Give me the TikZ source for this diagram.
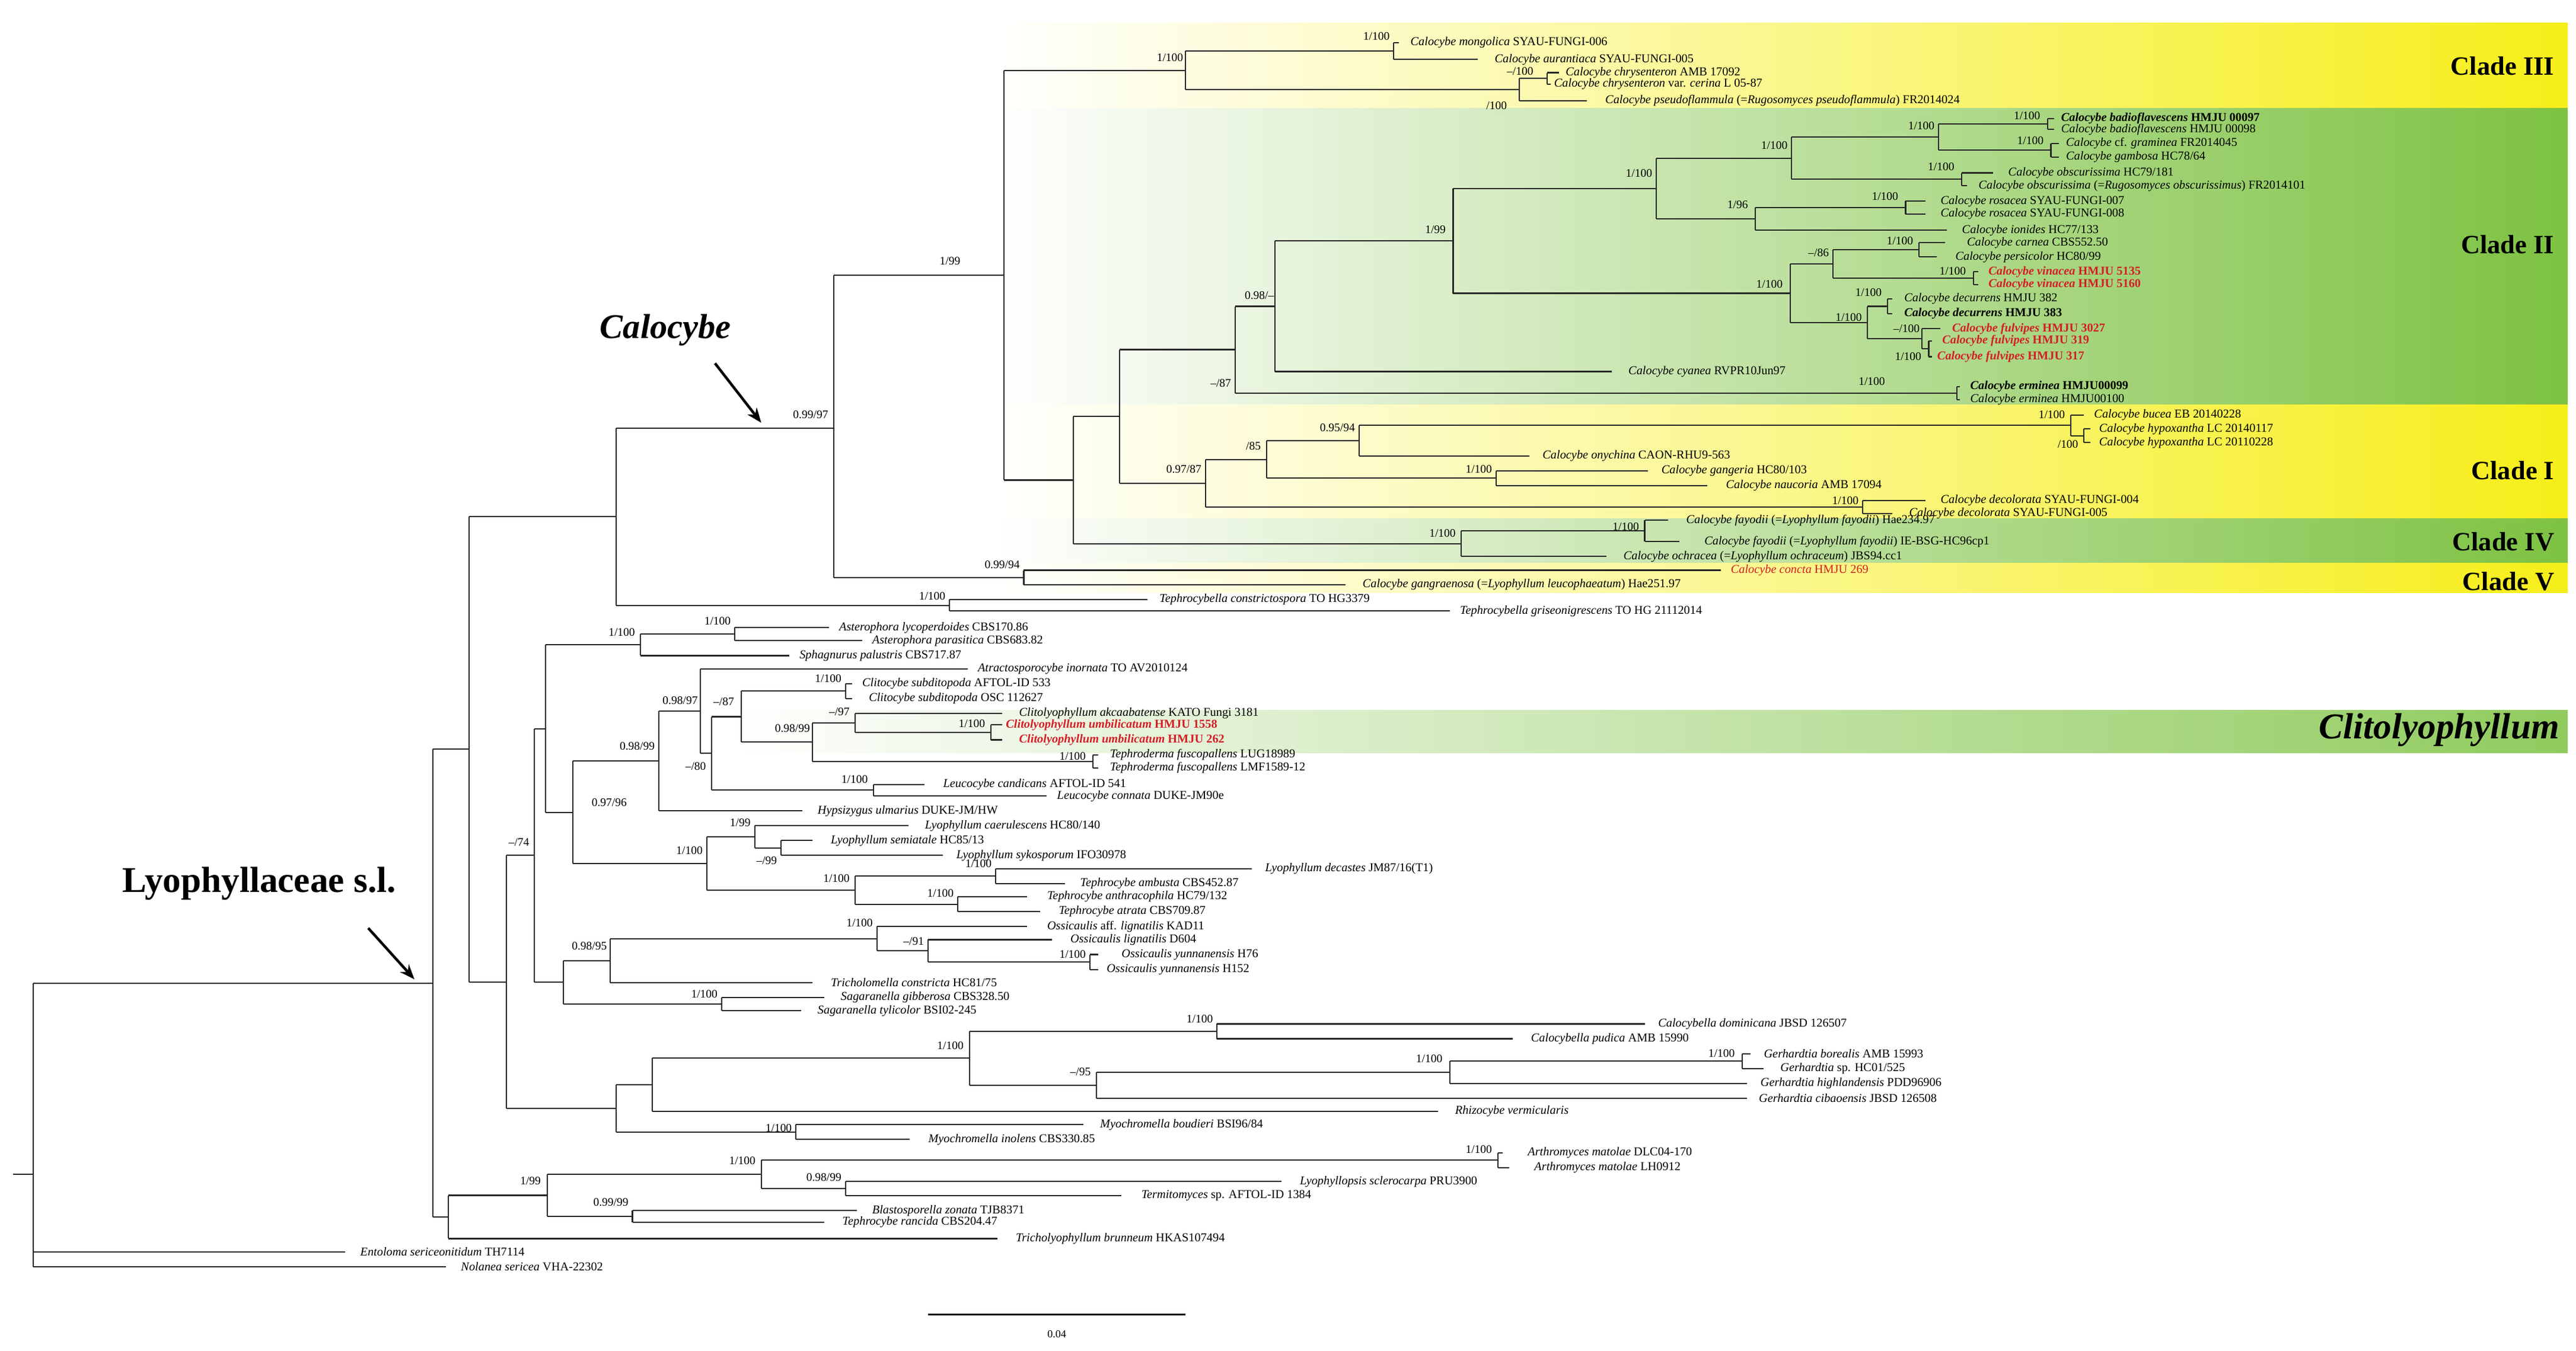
\documentclass[tikz,border=0pt]{standalone}
\usepackage{fontspec}
\setmainfont{Liberation Serif}
\usetikzlibrary{arrows.meta}
\definecolor{cred}{RGB}{212,30,38}
\definecolor{cyel}{RGB}{246,238,25}
\definecolor{cgrn}{RGB}{125,194,66}
\newcounter{lfc}
\tikzset{
 br/.style={line width=0.75pt, black!85},
 leaf/.style={anchor=west, inner sep=0pt, font=\fontsize{7.3}{8}\selectfont},
 sup/.style={anchor=east, inner sep=0.3pt, font=\fontsize{7}{8}\selectfont},
 clade/.style={anchor=east, inner sep=0pt, font=\fontsize{16}{18}\selectfont\bfseries},
 big/.style={inner sep=0pt, font=\fontsize{22}{24}\selectfont\bfseries},
 arr/.style={line width=1.6pt, -{Stealth[length=9pt,width=7pt]}}
}
\newcommand\vbr[3]{\draw[br] (#1,#2) -- (#1,#3);}
\newcommand\hbr[3]{\draw[br] (#1,#2) -- (#3,#2);}
\newcommand\lfx[5]{\draw[br] (#1,#2) -- (#3,#2);\stepcounter{lfc}\node[leaf] (t\arabic{lfc}) at (#4,#2) {#5};}
\newcommand\sv[3]{\stepcounter{lfc}\node[sup] (s\arabic{lfc}) at (#1,#2) {#3};}
\newcommand\rb[1]{\textcolor{cred}{\bfseries #1}}
\begin{document}
\begin{tikzpicture}[x=1pt,y=-1pt]
\useasboundingbox (0,0) rectangle (1560,818);
% ---- bands
\shade[left color=white, right color=cyel] (600,14) rectangle (1555,65.5);
\shade[left color=white, right color=cgrn] (600,65.5) rectangle (1555,245);
\shade[left color=white, right color=cyel] (600,245) rectangle (1555,314);
\shade[left color=white, right color=cgrn] (600,314) rectangle (1555,341);
\shade[left color=white, right color=cyel] (600,341) rectangle (1555,359);
\shade[left color=white, right color=cgrn!85] (440,430) rectangle (1555,456);
% ---- clade labels
\node[clade] (c3) at (1547,40) {Clade III};
\node[clade] (c2) at (1547,148) {Clade II};
\node[clade] (c1) at (1547,285) {Clade I};
\node[clade] (c4) at (1547,328) {Clade IV};
\node[clade] (c5) at (1547,352) {Clade V};
\node[clade, font=\fontsize{22}{24}\selectfont\bfseries\itshape] (cl) at (1550,442) {Clitolyophyllum};
\node[big, font=\fontsize{21}{23}\selectfont\bfseries\itshape] (calo) at (403,200) {Calocybe};
\node[big] (lyo) at (157,535) {Lyophyllaceae s.l.};
\coordinate (ca1) at (433,220); \coordinate (ca2) at (461,256);
\coordinate (la1) at (223,562); \coordinate (la2) at (251,593);
\draw[arr] (ca1) -- (ca2);
\draw[arr] (la1) -- (la2);
% scale bar
\coordinate (sb1) at (562,796); \coordinate (sb2) at (718,796);
\draw[line width=0.8pt] (sb1) -- (sb2);
\node[font=\fontsize{6.5}{7}\selectfont] (sbl) at (640,808) {0.04};
% ---- root
\coordinate (r0) at (8,711); \coordinate (r1) at (20,711);
\draw[br] (r0) -- (r1);
\vbr{20}{595.3}{767}
\hbr{20}{595.3}{262}
\lfx{20}{758}{209}{218}{\textit{Entoloma sericeonitidum} TH7114}
\lfx{20}{767}{270}{279}{\textit{Nolanea sericea} VHA-22302}
\vbr{262}{453.7}{736.9} \hbr{262}{453.7}{284} \hbr{262}{736.9}{271.5}
\vbr{284}{312.9}{594.6} \hbr{284}{312.9}{373} \hbr{284}{594.6}{306.8}
\vbr{373}{259.3}{366.5} \hbr{373}{259.3}{505} \hbr{373}{366.5}{575}
\vbr{575}{363}{370}
\lfx{575}{363}{695}{702}{\textit{Tephrocybella constrictospora} TO HG3379}
\lfx{575}{370}{878}{884}{\textit{Tephrocybella griseonigrescens} TO HG 21112014}
\sv{573}{361}{1/100}
\vbr{505}{166.6}{349.7} \hbr{505}{166.6}{608} \hbr{505}{349.7}{620}
\sv{502}{251}{0.99/97}
% Clade V
\vbr{620}{345.3}{354}
\lfx{620}{345.3}{1042}{1048}{\textcolor{cred}{\textit{Calocybe concta} HMJU 269}}
\lfx{620}{354}{815}{825}{\textit{Calocybe gangraenosa} (=\textit{Lyophyllum leucophaeatum}) Hae251.97}
\sv{618}{342}{0.99/94}
% 608
\vbr{608}{42.6}{290.7} \hbr{608}{42.6}{718} \hbr{608}{290.7}{650}
\sv{582}{158}{1/99}
% Clade III
\vbr{718}{30.9}{54.3} \hbr{718}{30.9}{844} \hbr{718}{54.3}{920}
\sv{717}{35}{1/100}
\vbr{844}{25.7}{36}
\sv{842}{22}{1/100}
\lfx{844}{25.7}{847}{854}{\textit{Calocybe mongolica} SYAU-FUNGI-006}
\lfx{844}{36}{895}{905}{\textit{Calocybe aurantiaca} SYAU-FUNGI-005}
\vbr{920}{47.5}{61} \hbr{920}{47.5}{937}
\sv{913}{64}{/100}
\vbr{937}{44}{51}
\sv{929}{43}{--/100}
\lfx{937}{44}{944}{948}{\textit{Calocybe chrysenteron} AMB 17092}
\lfx{937}{51}{939}{941}{\textit{Calocybe chrysenteron} var. \textit{cerina} L 05-87}
\lfx{920}{61}{961}{972}{\textit{Calocybe pseudoflammula} (=\textit{Rugosomyces pseudoflammula}) FR2014024}
% 650
\vbr{650}{252.2}{329.3} \hbr{650}{252.2}{678} \hbr{650}{329.3}{885}
\vbr{678}{211.7}{292.6} \hbr{678}{211.7}{748} \hbr{678}{292.6}{730}
% Clade II
\vbr{748}{185.5}{238} \hbr{748}{185.5}{772} \hbr{748}{238}{1185}
\sv{746}{232}{--/87}
\vbr{1185}{234}{242}
\sv{1142}{231}{1/100}
\lfx{1185}{234}{1187}{1193}{\textbf{\textit{Calocybe erminea} HMJU00099}}
\lfx{1185}{242}{1187}{1193}{\textit{Calocybe erminea} HMJU00100}
\vbr{772}{145.9}{225} \hbr{772}{145.9}{880}
\sv{772}{179}{0.98/--}
\lfx{772}{225}{976}{986}{\textit{Calocybe cyanea} RVPR10Jun97}
\vbr{880}{114.2}{177.6} \hbr{880}{114.2}{1003} \hbr{880}{177.6}{1084}
\sv{876}{139}{1/99}
\vbr{1003}{95.8}{132.5} \hbr{1003}{95.8}{1085} \hbr{1003}{132.5}{1063}
\sv{1001}{105}{1/100}
\vbr{1085}{83}{108.6} \hbr{1085}{83}{1174} \hbr{1085}{108.6}{1188}
\sv{1083}{88}{1/100}
\vbr{1174}{75.1}{91} \hbr{1174}{75.1}{1240} \hbr{1174}{91}{1242}
\sv{1172}{76}{1/100}
\vbr{1240}{71.8}{78.4}
\sv{1236}{70}{1/100}
\lfx{1240}{71.8}{1244}{1248}{\textbf{\textit{Calocybe badioflavescens} HMJU 00097}}
\lfx{1240}{78.4}{1244}{1248}{\textit{Calocybe badioflavescens} HMJU 00098}
\vbr{1242}{86.8}{95.2}
\sv{1238}{85}{1/100}
\lfx{1242}{86.8}{1247}{1251}{\textit{Calocybe} cf. \textit{graminea} FR2014045}
\lfx{1242}{95.2}{1247}{1251}{\textit{Calocybe gambosa} HC78/64}
\vbr{1188}{104.7}{112.5}
\sv{1184}{101}{1/100}
\lfx{1188}{104.7}{1207}{1216}{\textit{Calocybe obscurissima} HC79/181}
\lfx{1188}{112.5}{1191}{1198}{\textit{Calocybe obscurissima} (=\textit{Rugosomyces obscurissimus}) FR2014101}
\vbr{1063}{125.7}{139.4} \hbr{1063}{125.7}{1154}
\sv{1059}{124}{1/96}
\vbr{1154}{121.8}{129.6}
\sv{1150}{119}{1/100}
\lfx{1154}{121.8}{1166}{1175}{\textit{Calocybe rosacea} SYAU-FUNGI-007}
\lfx{1154}{129.6}{1166}{1175}{\textit{Calocybe rosacea} SYAU-FUNGI-008}
\lfx{1063}{139.4}{1179}{1188}{\textit{Calocybe ionides} HC77/133}
\vbr{1084}{159.9}{195.3} \hbr{1084}{159.9}{1110} \hbr{1084}{195.3}{1131}
\sv{1080}{172}{1/100}
\vbr{1110}{151.3}{168.5} \hbr{1110}{151.3}{1162} \hbr{1110}{168.5}{1195}
\sv{1108}{153}{--/86}
\vbr{1162}{147}{155.6}
\sv{1159}{146}{1/100}
\lfx{1162}{147}{1178}{1191}{\textit{Calocybe carnea} CBS552.50}
\lfx{1162}{155.6}{1173}{1184}{\textit{Calocybe persicolor} HC80/99}
\vbr{1195}{164.6}{172.3}
\sv{1191}{164}{1/100}
\lfx{1195}{164.6}{1198}{1204}{\rb{\textit{Calocybe vinacea} HMJU 5135}}
\lfx{1195}{172.3}{1198}{1204}{\rb{\textit{Calocybe vinacea} HMJU 5160}}
\vbr{1131}{185.5}{205.1} \hbr{1131}{185.5}{1143} \hbr{1131}{205.1}{1164}
\sv{1128}{192}{1/100}
\vbr{1143}{181}{190}
\sv{1140}{177}{1/100}
\lfx{1143}{181}{1146}{1153}{\textit{Calocybe decurrens} HMJU 382}
\lfx{1143}{190}{1146}{1153}{\textbf{\textit{Calocybe decurrens} HMJU 383}}
\vbr{1164}{199}{211.2} \hbr{1164}{211.2}{1168}
\sv{1163}{199}{--/100}
\lfx{1164}{199}{1175}{1182}{\rb{\textit{Calocybe fulvipes} HMJU 3027}}
\vbr{1168}{206.5}{216}
\sv{1164}{216}{1/100}
\lfx{1168}{206.5}{1170}{1176}{\rb{\textit{Calocybe fulvipes} HMJU 319}}
\lfx{1168}{216}{1170}{1173}{\rb{\textit{Calocybe fulvipes} HMJU 317}}
% Clade I
\vbr{730}{278.2}{307} \hbr{730}{278.2}{767} \hbr{730}{307}{1128}
\sv{728}{284}{0.97/87}
\vbr{767}{266.8}{289.5} \hbr{767}{266.8}{823} \hbr{767}{289.5}{906}
\sv{764}{270}{/85}
\vbr{823}{257.6}{276} \hbr{823}{257.6}{1254}
\sv{821}{259}{0.95/94}
\lfx{823}{276}{926}{934}{\textit{Calocybe onychina} CAON-RHU9-563}
\vbr{1254}{251.4}{263.9} \hbr{1254}{263.9}{1262}
\sv{1251}{251}{1/100}
\lfx{1254}{251.4}{1262}{1268}{\textit{Calocybe bucea} EB 20140228}
\vbr{1262}{259.7}{268}
\sv{1259}{269}{/100}
\lfx{1262}{259.7}{1266}{1271}{\textit{Calocybe hypoxantha} LC 20140117}
\lfx{1262}{268}{1266}{1271}{\textit{Calocybe hypoxantha} LC 20110228}
\vbr{906}{285}{294}
\sv{904}{284}{1/100}
\lfx{906}{285}{998}{1006}{\textit{Calocybe gangeria} HC80/103}
\lfx{906}{294}{1034}{1045}{\textit{Calocybe naucoria} AMB 17094}
\vbr{1128}{303}{311}
\sv{1126}{303}{1/100}
\lfx{1128}{303}{1166}{1175}{\textit{Calocybe decolorata} SYAU-FUNGI-004}
\lfx{1128}{311}{1146}{1156}{\textit{Calocybe decolorata} SYAU-FUNGI-005}
% Clade IV
\vbr{885}{321.5}{337} \hbr{885}{321.5}{996}
\sv{882}{323}{1/100}
\vbr{996}{315}{328}
\sv{993}{319}{1/100}
\lfx{996}{315}{1010}{1021}{\textit{Calocybe fayodii} (=\textit{Lyophyllum fayodii}) Hae234.97}
\lfx{996}{328}{1017}{1032}{\textit{Calocybe fayodii} (=\textit{Lyophyllum fayodii}) IE-BSG-HC96cp1}
\lfx{885}{337}{973}{983}{\textit{Calocybe ochracea} (=\textit{Lyophyllum ochraceum}) JBS94.cc1}
% ---- D group
\vbr{306.8}{518}{671.2} \hbr{306.8}{518}{323.6} \hbr{306.8}{671.2}{373}
\vbr{323.6}{441.2}{594.8} \hbr{323.6}{441.2}{330.4} \hbr{323.6}{594.8}{341}
\sv{321}{510}{--/74}
\vbr{330.4}{390.5}{491.9} \hbr{330.4}{390.5}{388} \hbr{330.4}{491.9}{347}
\vbr{388}{384}{397} \hbr{388}{384}{445}
\sv{385}{383}{1/100}
\vbr{445}{380}{388}
\sv{443}{376}{1/100}
\lfx{445}{380}{502}{508}{\textit{Asterophora lycoperdoides} CBS170.86}
\lfx{445}{388}{522}{528}{\textit{Asterophora parasitica} CBS683.82}
\lfx{388}{397}{478}{484}{\textit{Sphagnurus palustris} CBS717.87}
\vbr{347}{460.8}{522.9} \hbr{347}{460.8}{399} \hbr{347}{522.9}{428}
\sv{380}{486}{0.97/96}
\vbr{399}{430.6}{491} \hbr{399}{430.6}{424}
\sv{397}{452}{0.98/99}
\lfx{399}{491}{486}{495}{\textit{Hypsizygus ulmarius} DUKE-JM/HW}
\vbr{424}{405}{456.2} \hbr{424}{456.2}{431}
\sv{423}{424}{0.98/97}
\lfx{424}{405}{586}{592}{\textit{Atractosporocybe inornata} TO AV2010124}
\vbr{431}{434}{478.5} \hbr{431}{434}{449} \hbr{431}{478.5}{529}
\sv{428}{464}{--/80}
\vbr{529}{475}{482}
\sv{526}{472}{1/100}
\lfx{529}{475}{560}{571}{\textit{Leucocybe candicans} AFTOL-ID 541}
\lfx{529}{482}{634}{640}{\textit{Leucocybe connata} DUKE-JM90e}
\vbr{449}{418.5}{449.4} \hbr{449}{418.5}{512} \hbr{449}{449.4}{492}
\sv{445}{425}{--/87}
\vbr{512}{414}{423}
\sv{510}{411}{1/100}
\lfx{512}{414}{516}{522}{\textit{Clitocybe subditopoda} AFTOL-ID 533}
\lfx{512}{423}{516}{526}{\textit{Clitocybe subditopoda} OSC 112627}
\vbr{492}{437.75}{461} \hbr{492}{437.75}{518} \hbr{492}{461}{662}
\sv{491}{441}{0.98/99}
\vbr{518}{432}{443.5} \hbr{518}{443.5}{600}
\sv{515}{431}{--/97}
\lfx{518}{432}{607}{617}{\textit{Clitolyophyllum akcaabatense} KATO Fungi 3181}
\vbr{600}{439}{448}
\sv{597}{438}{1/100}
\lfx{600}{439}{607}{609}{\rb{\textit{Clitolyophyllum umbilicatum} HMJU 1558}}
\lfx{600}{448}{607}{617}{\rb{\textit{Clitolyophyllum umbilicatum} HMJU 262}}
\vbr{662}{457}{465}
\sv{658}{458}{1/100}
\lfx{662}{457}{665}{672}{\textit{Tephroderma fuscopallens} LUG18989}
\lfx{662}{465}{665}{672}{\textit{Tephroderma fuscopallens} LMF1589-12}
\vbr{428}{506.7}{539} \hbr{428}{506.7}{457} \hbr{428}{539}{518}
\sv{426}{515}{1/100}
\vbr{457}{500}{513.5} \hbr{457}{513.5}{473}
\sv{455}{498}{1/99}
\lfx{457}{500}{550}{560}{\textit{Lyophyllum caerulescens} HC80/140}
\vbr{473}{509}{518}
\sv{471}{521}{--/99}
\lfx{473}{509}{492}{503}{\textit{Lyophyllum semiatale} HC85/13}
\lfx{473}{518}{571}{579}{\textit{Lyophyllum sykosporum} IFO30978}
\vbr{518}{530.5}{547.5} \hbr{518}{530.5}{603} \hbr{518}{547.5}{580}
\sv{515}{532}{1/100}
\vbr{603}{526}{535}
\sv{601}{523}{1/100}
\lfx{603}{526}{758}{766}{\textit{Lyophyllum decastes} JM87/16(T1)}
\lfx{603}{535}{645}{654}{\textit{Tephrocybe ambusta} CBS452.87}
\vbr{580}{543}{552}
\sv{578}{541}{1/100}
\lfx{580}{543}{622}{634}{\textit{Tephrocybe anthracophila} HC79/132}
\lfx{580}{552}{630}{641}{\textit{Tephrocybe atrata} CBS709.87}
\vbr{341}{581.7}{608} \hbr{341}{581.7}{369.6} \hbr{341}{608}{437}
\vbr{369.6}{568.4}{595} \hbr{369.6}{568.4}{531}
\sv{368}{573}{0.98/95}
\lfx{369.6}{595}{492}{503}{\textit{Tricholomella constricta} HC81/75}
\vbr{531}{561}{575.8} \hbr{531}{575.8}{562}
\sv{529}{559}{1/100}
\lfx{531}{561}{622}{634}{\textit{Ossicaulis} aff. \textit{lignatilis} KAD11}
\vbr{562}{569}{582.5} \hbr{562}{582.5}{660}
\sv{560}{570}{--/91}
\lfx{562}{569}{637}{648}{\textit{Ossicaulis lignatilis} D604}
\vbr{660}{578}{587}
\sv{658}{578}{1/100}
\lfx{660}{578}{665}{679}{\textit{Ossicaulis yunnanensis} H76}
\lfx{660}{587}{665}{670}{\textit{Ossicaulis yunnanensis} H152}
\vbr{437}{604}{612}
\sv{435}{602}{1/100}
\lfx{437}{604}{499}{509}{\textit{Sagaranella gibberosa} CBS328.50}
\lfx{437}{612}{485}{495}{\textit{Sagaranella tylicolor} BSI02-245}
% M group
\vbr{373}{656.9}{685.5} \hbr{373}{656.9}{395} \hbr{373}{685.5}{482}
\vbr{395}{640.8}{673} \hbr{395}{640.8}{587}
\lfx{395}{673}{871}{881}{\textit{Rhizocybe vermicularis}}
\vbr{587}{624.5}{657.1} \hbr{587}{624.5}{737} \hbr{587}{657.1}{664}
\sv{584}{633}{1/100}
\vbr{737}{620}{629}
\sv{735}{617}{1/100}
\lfx{737}{620}{996}{1004}{\textit{Calocybella dominicana} JBSD 126507}
\lfx{737}{629}{916}{927}{\textit{Calocybella pudica} AMB 15990}
\vbr{664}{649.3}{665} \hbr{664}{649.3}{878}
\sv{661}{649}{--/95}
\vbr{878}{642.5}{656} \hbr{878}{642.5}{1055}
\sv{874}{641}{1/100}
\vbr{1055}{638}{647}
\sv{1051}{638}{1/100}
\lfx{1055}{638}{1060}{1068}{\textit{Gerhardtia borealis} AMB 15993}
\lfx{1055}{647}{1068}{1078}{\textit{Gerhardtia} sp. HC01/525}
\lfx{878}{656}{1058}{1066}{\textit{Gerhardtia highlandensis} PDD96906}
\lfx{664}{665}{1058}{1065}{\textit{Gerhardtia cibaoensis} JBSD 126508}
\vbr{482}{681}{690}
\sv{480}{683}{1/100}
\lfx{482}{681}{656}{666}{\textit{Myochromella boudieri} BSI96/84}
\lfx{482}{690}{551}{562}{\textit{Myochromella inolens} CBS330.85}
% L group
\vbr{271.5}{723.8}{750} \hbr{271.5}{723.8}{331.5}
\lfx{271.5}{750}{604}{615}{\textit{Tricholyophyllum brunneum} HKAS107494}
\vbr{331.5}{711.1}{736.5} \hbr{331.5}{711.1}{461} \hbr{331.5}{736.5}{383}
\sv{328}{715}{1/99}
\vbr{461}{702.5}{719.8} \hbr{461}{702.5}{907} \hbr{461}{719.8}{512}
\sv{458}{703}{1/100}
\vbr{907}{698}{707}
\sv{904}{696}{1/100}
\lfx{907}{698}{910}{925}{\textit{Arthromyces matolae} DLC04-170}
\lfx{907}{707}{914}{929}{\textit{Arthromyces matolae} LH0912}
\vbr{512}{715.5}{724}
\sv{510}{713}{0.98/99}
\lfx{512}{715.5}{776}{787}{\textit{Lyophyllopsis sclerocarpa} PRU3900}
\lfx{512}{724}{679}{691}{\textit{Termitomyces} sp. AFTOL-ID 1384}
\vbr{383}{733}{740}
\sv{381}{728}{0.99/99}
\lfx{383}{733}{519}{528}{\textit{Blastosporella zonata} TJB8371}
\lfx{383}{740}{499}{510}{\textit{Tephrocybe rancida} CBS204.47}
\end{tikzpicture}
\end{document}
